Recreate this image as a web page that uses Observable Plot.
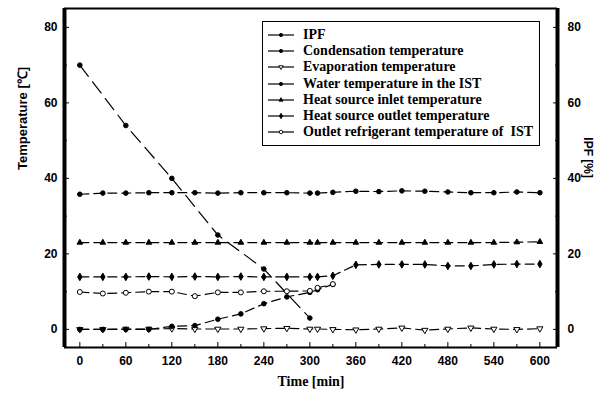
<!DOCTYPE html>
<html><head><meta charset="utf-8">
<script src="https://cdn.jsdelivr.net/npm/d3@7"></script>
<script src="https://cdn.jsdelivr.net/npm/@observablehq/plot@0.6"></script>
<style>
body{margin:0;background:#fff;}
#wrap{position:relative;width:603px;height:394px;}
#legend{position:absolute;left:262px;top:21px;width:276px;height:123px;border:1.5px solid #000;background:#fff;font:bold 14px "Liberation Serif","Times New Roman",serif;color:#000;}
.row{position:absolute;left:4px;height:16px;display:flex;align-items:center;white-space:pre;}
.row svg{margin-right:8px;}
</style></head><body><div id="wrap"><div id="legend"></div></div>
<script>
// ---- data ----
const times = [0,30,60,90,120,150,180,210,240,270,300,310,330,360,390,420,450,480,510,540,570,600];
const condensation = [35.8,36.1,36.1,36.2,36.2,36.2,36.1,36.2,36.2,36.2,36.1,36.1,36.3,36.6,36.5,36.7,36.6,36.4,36.2,36.2,36.4,36.2];
const evaporation = [0,0,0.1,0.1,0.2,0.1,0.1,0.1,0.2,0.3,0.1,0.1,0,-0.1,0.1,0.4,-0.2,0.1,0.4,0.1,0,0.2];
const inletTemp = [23.0,23.0,23.0,23.0,23.0,23.0,23.0,23.0,23.0,23.0,23.0,23.0,23.0,23.0,23.0,23.0,23.0,23.0,23.0,23.0,23.1,23.2];
const outletTemp = [13.9,13.9,13.9,14.0,13.9,14.0,13.9,14.0,13.9,13.9,13.9,13.9,14.2,17.1,17.2,17.2,17.2,16.8,16.8,17.2,17.3,17.3];
const istTimes = [0,30,60,90,120,150,180,210,240,270,300,310,330];
const waterIST = [0,0,0,0,0.8,1.0,2.7,4.1,6.8,8.6,9.8,10.5,11.9];
const outletRefrig = [9.9,9.5,9.7,10.0,10.0,8.8,9.8,9.8,10.1,10.1,10.2,11.0,12.0];
const ipfTimes = [0,60,120,180,240,300];
const ipf = [70,54,40,25,16,3];

const xMajor = [0,60,120,180,240,300,360,420,480,540,600];
const xMinor = [30,90,150,210,270,330,390,450,510,570];
const yMajor = [0,20,40,60,80];
const yMinor = [10,30,50,70];
const xDomain = [-20,623];
const yDomain = [-4.8,85];

const seriesNames = ["IPF","Condensation temperature","Evaporation temperature","Water temperature in the IST","Heat source inlet temperature","Heat source outlet temperature","Outlet refrigerant temperature of  IST"];

// ---- build table ----
const styles = {
  "IPF": {symbol:"circle", fill:"black", r:2.3, dash:"14,7"},
  "Condensation temperature": {symbol:"circle", fill:"black", r:2.3, dash:"9,5"},
  "Evaporation temperature": {symbol:"triangle", fill:"white", r:2.3, rotate:180, dash:"9,5"},
  "Water temperature in the IST": {symbol:"circle", fill:"black", r:2.3, dash:"9,5"},
  "Heat source inlet temperature": {symbol:"triangle", fill:"black", r:2.1, dash:"9,5"},
  "Heat source outlet temperature": {symbol:"diamond", fill:"black", r:2.3, dash:"9,5"},
  "Outlet refrigerant temperature of  IST": {symbol:"circle", fill:"white", r:2.5, dash:"9,5"}
};
const seriesData = {
  [seriesNames[0]]: ipfTimes.map((t,i)=>({t, v:ipf[i]})),
  [seriesNames[1]]: times.map((t,i)=>({t, v:condensation[i]})),
  [seriesNames[2]]: times.map((t,i)=>({t, v:evaporation[i]})),
  [seriesNames[3]]: istTimes.map((t,i)=>({t, v:waterIST[i]})),
  [seriesNames[4]]: times.map((t,i)=>({t, v:inletTemp[i]})),
  [seriesNames[5]]: times.map((t,i)=>({t, v:outletTemp[i]})),
  [seriesNames[6]]: istTimes.map((t,i)=>({t, v:outletRefrig[i]}))
};

const lineMarks = seriesNames.map(n => Plot.line(seriesData[n], {x:"t", y:"v", stroke:"black", strokeWidth:1.2, strokeDasharray:styles[n].dash}));
const dotMarks = seriesNames.map(n => Plot.dot(seriesData[n], {x:"t", y:"v", symbol:styles[n].symbol, r:styles[n].r, fill:styles[n].fill, stroke:"black", strokeWidth:1, rotate:styles[n].rotate || 0}));

const tickFont = {fontFamily:"Liberation Sans, Arial, sans-serif", fontSize:12, fontWeight:"bold"};

const chart = Plot.plot({
  width:603, height:394,
  marginLeft:64, marginRight:46, marginTop:8, marginBottom:47,
  x:{domain:xDomain},
  y:{domain:yDomain},
  style:{background:"white", color:"black", fontFamily:"Liberation Sans, Arial, sans-serif", fontSize:"12px", fontWeight:"bold"},
  marks:[
    ...lineMarks,
    ...dotMarks,
    Plot.axisX({ticks:xMajor, tickSize:-5, tickPadding:14, tickFormat:d=>d, label:null, ...tickFont}),
    Plot.axisX({ticks:xMinor, tickSize:-3, tickFormat:()=>"", label:null}),
    Plot.axisY({anchor:"left", ticks:yMajor, tickSize:-5, tickPadding:12, tickFormat:d=>d, label:null, ...tickFont}),
    Plot.axisY({anchor:"left", ticks:yMinor, tickSize:-3, tickFormat:()=>"", label:null}),
    Plot.axisY({anchor:"right", ticks:yMajor, tickSize:-5, tickPadding:15, tickFormat:d=>d, label:null, ...tickFont}),
    Plot.axisY({anchor:"right", ticks:yMinor, tickSize:-3, tickFormat:()=>"", label:null}),
    Plot.ruleY(yDomain, {stroke:"black", strokeWidth:1.8}),
    Plot.ruleX(xDomain, {stroke:"black", strokeWidth:4}),
    Plot.text(["Time [min]"], {text:d=>d, frameAnchor:"bottom", dy:38, fontFamily:"Liberation Serif, Times New Roman, serif", fontSize:14, fontWeight:"bold"}),
    Plot.text(["Temperature [\u2103]"], {text:d=>d, frameAnchor:"left", dx:-42, dy:-8, rotate:-90, fontSize:13, fontWeight:"bold"}),
    Plot.text(["IPF [%]"], {text:d=>d, frameAnchor:"right", dx:30, dy:0, rotate:90, fontSize:12, fontWeight:"bold"})
  ]
});
document.getElementById("wrap").prepend(chart);

// ---- legend ----
const leg = d3.select("#legend");
seriesNames.forEach((n,i) => {
  const s = styles[n];
  const row = leg.append("div").attr("class","row").style("top", (5 + i*16.2) + "px");
  const svg = row.append("svg").attr("width",28).attr("height",12);
  svg.append("line").attr("x1",1).attr("x2",27).attr("y1",6).attr("y2",6).attr("stroke","black").attr("stroke-width",1.2);
  const symType = s.symbol === "triangle" ? d3.symbolTriangle : s.symbol === "diamond" ? d3.symbolDiamond : d3.symbolCircle;
  const size = Math.PI * s.r * s.r * 0.5;
  svg.append("path").attr("d", d3.symbol(symType, size)()).attr("transform", `translate(14,6) rotate(${s.rotate||0})`).attr("fill", s.fill).attr("stroke","black").attr("stroke-width",0.9);
  row.append("span").text(n);
});
</script>
</body></html>
